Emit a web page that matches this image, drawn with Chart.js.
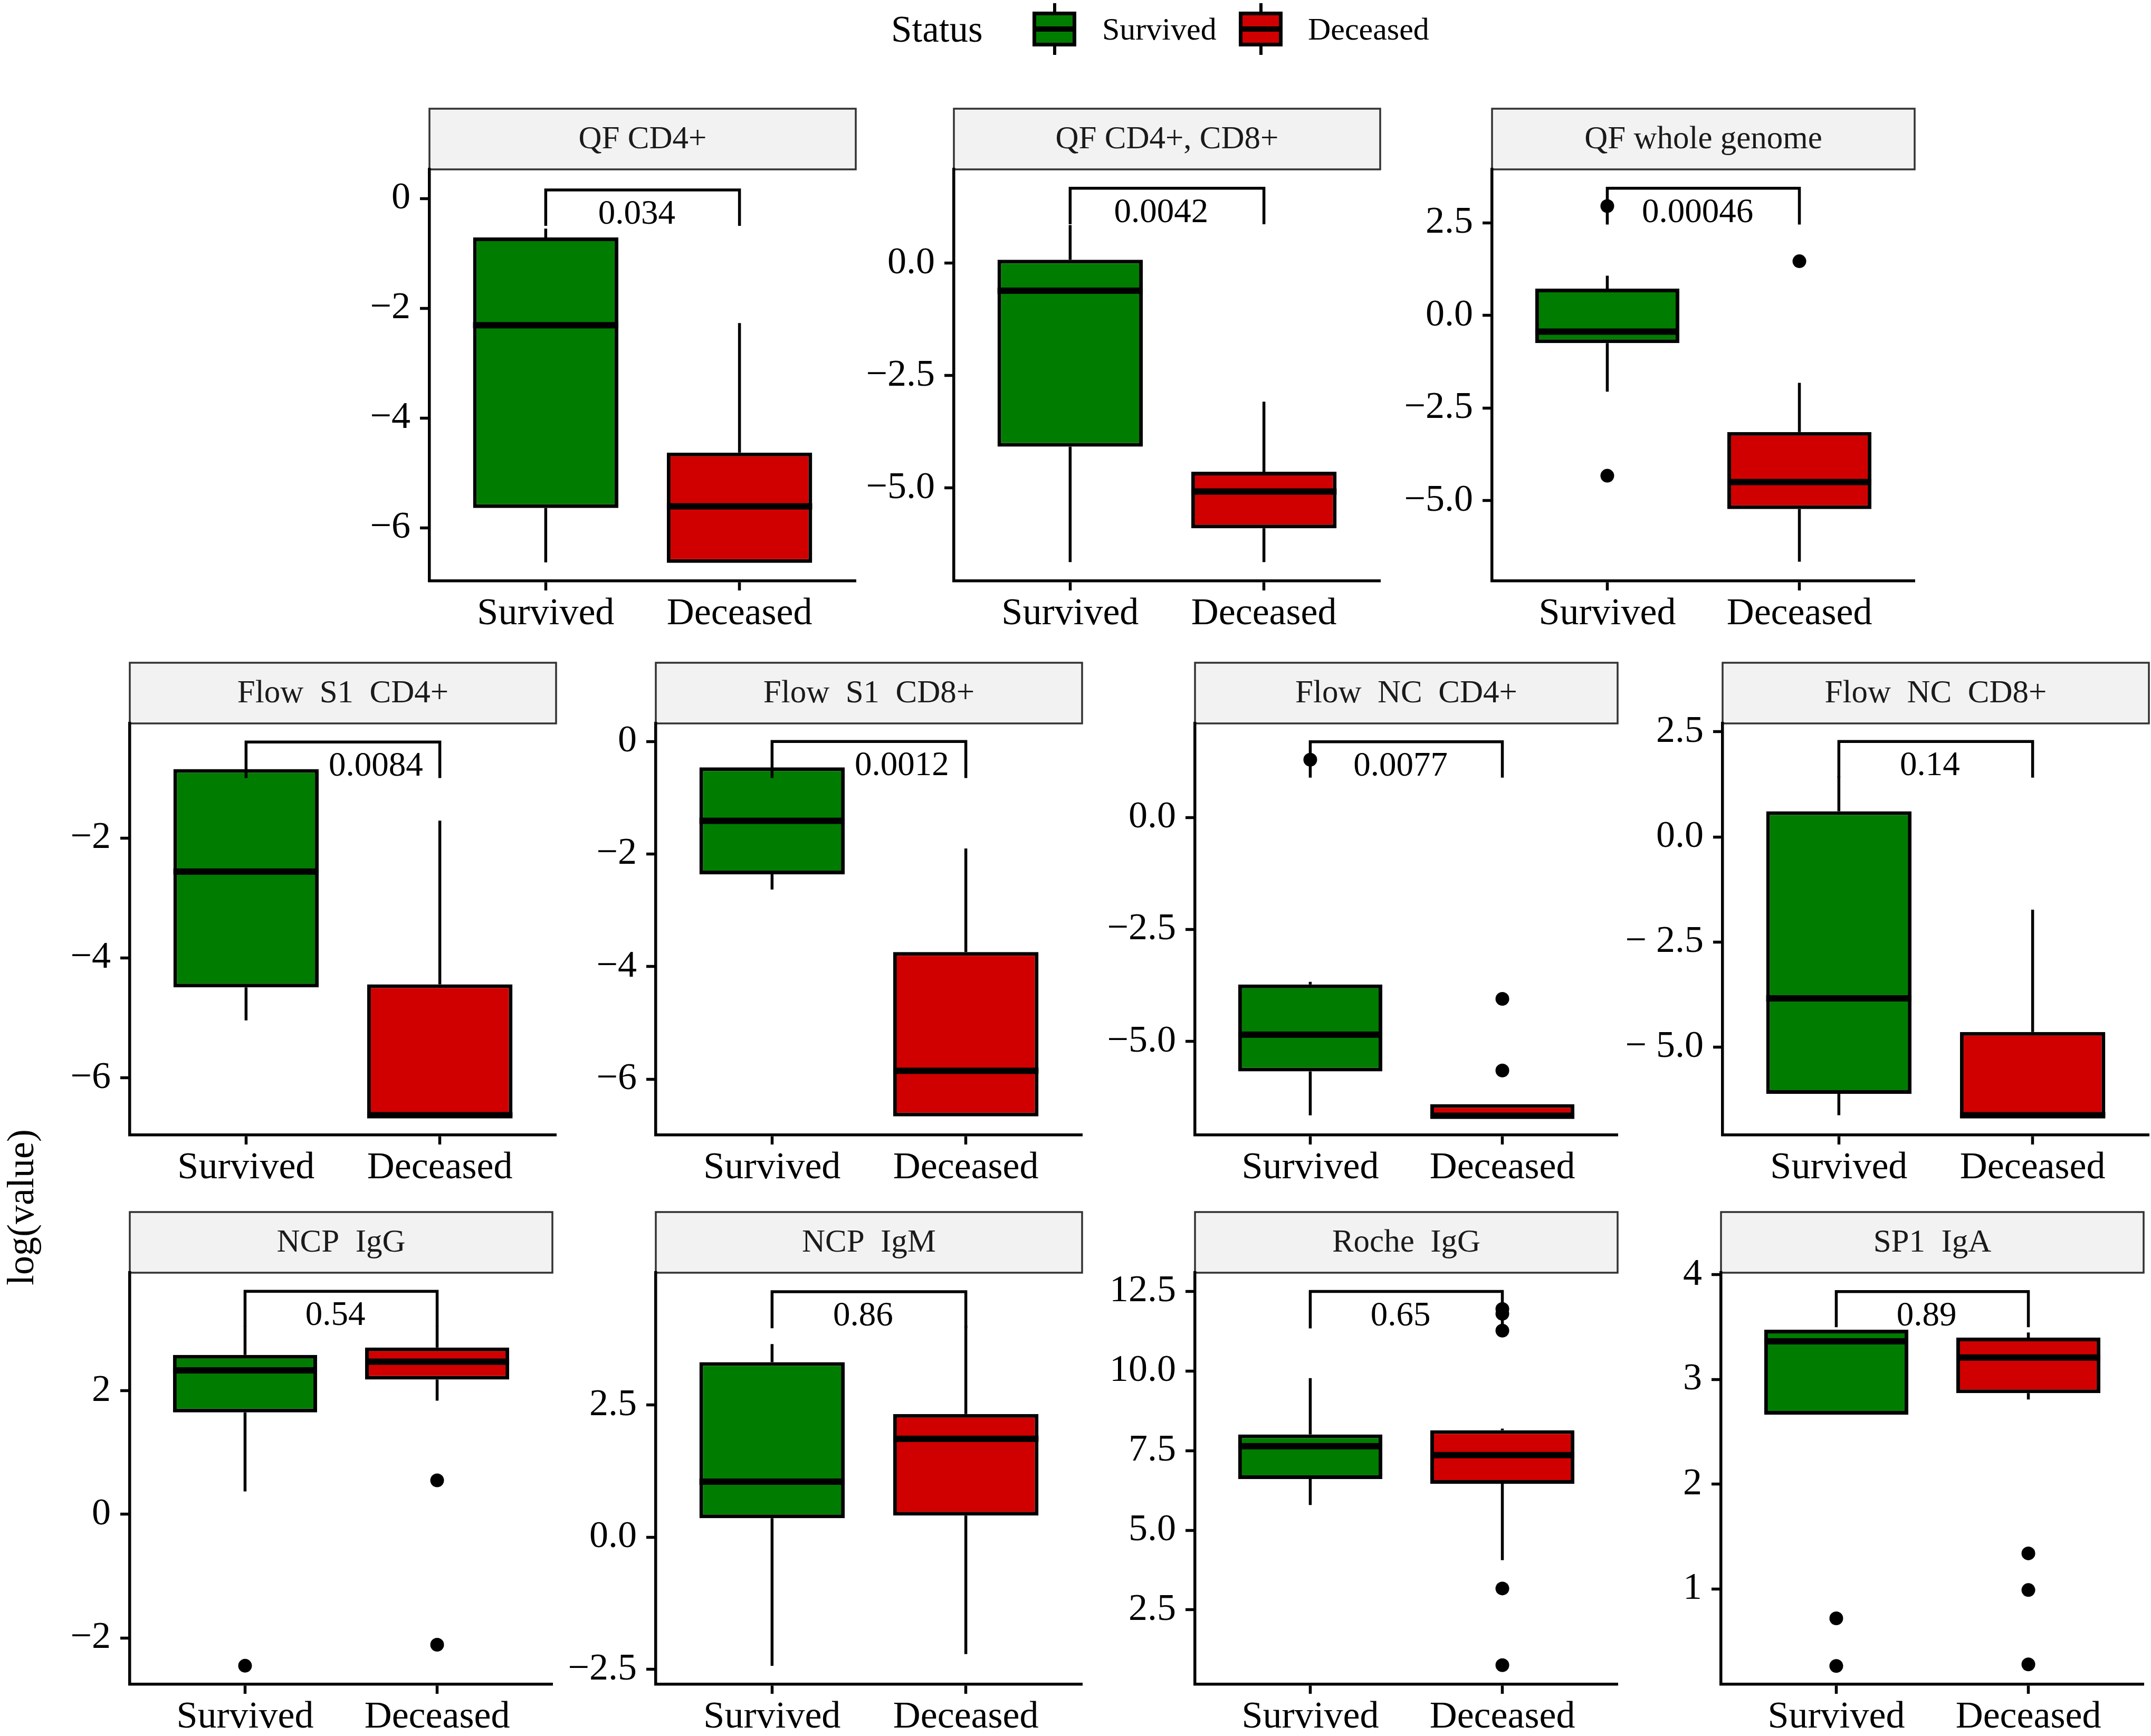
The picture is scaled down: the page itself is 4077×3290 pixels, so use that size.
<!DOCTYPE html>
<html>
<head>
<meta charset="utf-8">
<title>Status box plots</title>
<script src="https://cdn.jsdelivr.net/npm/chart.js@4.4.1/dist/chart.umd.min.js"></script>
<style>
  html, body { margin: 0; padding: 0; background: #fff; }
  body { width: 4077px; height: 3290px; position: relative; overflow: hidden; font-family: "Liberation Serif", "Times New Roman", serif; }
  canvas { position: absolute; }
  .txt { position: absolute; white-space: pre; line-height: 1; color: #000; transform: translateY(-50%); }
  .key { position: absolute; width: 83px; height: 98px; }
  .key .whisk { position: absolute; left: 39px; top: 0; width: 6px; height: 98px; background: #000; }
  .key .box { position: absolute; left: 0; top: 16px; width: 83px; height: 66px; box-sizing: border-box; border: 7px solid #000; }
  .key .med { position: absolute; left: 0; top: 44px; width: 83px; height: 10px; background: #000; }
  #ytitle { position: absolute; left: 39px; top: 2288px; font-size: 72px; line-height: 1; white-space: nowrap;
            transform: translate(-50%, -50%) rotate(-90deg); }
</style>
</head>
<body>
<div id="ytitle">log(value)</div>
<script>
// ---- data ----
const groups = ['Survived', 'Deceased'];
const panelTitles = ['QF CD4+', 'QF CD4+, CD8+', 'QF whole genome',
  'Flow  S1  CD4+', 'Flow  S1  CD8+', 'Flow  NC  CD4+', 'Flow  NC  CD8+',
  'NCP  IgG', 'NCP  IgM', 'Roche  IgG', 'SP1  IgA'];

// [lower whisker, Q1, median, Q3, upper whisker]
const survivedStats = [
  [-6.63, -5.64, -2.31, -0.71, -0.55],
  [-6.65, -4.08, -0.61, 0.08, 0.85],
  [-2.06, -0.75, -0.44, 0.72, 1.07],
  [-5.04, -4.49, -2.56, -0.85, -0.85],
  [-2.63, -2.36, -1.41, -0.46, -0.46],
  [-6.65, -5.67, -4.85, -3.73, -3.67],
  [-6.62, -6.11, -3.84, 0.61, 1.45],
  [0.37, 1.65, 2.33, 2.58, 3.05],
  [-2.43, 0.36, 1.05, 3.31, 3.65],
  [5.79, 6.61, 7.64, 8.01, 9.78],
  [2.665, 2.665, 3.365, 3.476, 3.476]
];
const deceasedStats = [
  [-6.64, -6.64, -5.61, -4.63, -2.27],
  [-6.65, -5.90, -5.08, -4.64, -3.08],
  [-6.65, -5.23, -4.50, -3.15, -1.82],
  [-6.64, -6.64, -6.62, -4.44, -1.71],
  [-6.66, -6.66, -5.85, -3.74, -1.90],
  [-6.71, -6.71, -6.66, -6.40, -6.40],
  [-6.66, -6.66, -6.62, -4.64, -1.73],
  [1.84, 2.18, 2.47, 2.70, 3.05],
  [-2.21, 0.41, 1.86, 2.33, 4.0],
  [4.06, 6.46, 7.36, 8.14, 8.19],
  [2.81, 2.87, 3.21, 3.40, 3.45]
];
const survivedOutliers = [[], [], [2.95, -4.33], [], [], [1.29], [], [-2.45], [], [], [0.72, 0.265]];
const deceasedOutliers = [[], [], [1.46], [], [], [-4.05, -5.65], [], [0.55, -2.11], [],
  [11.95, 11.8, 11.27, 3.17, 0.76], [1.34, 0.99, 0.28]];

const pValues = ['0.034', '0.0042', '0.00046', '0.0084', '0.0012', '0.0077', '0.14', '0.54', '0.86', '0.65', '0.89'];
const bracketTop = [0.156, 1.67, 3.43, -0.40, 0.0, 1.69, 2.27, 3.61, 4.64, 12.5, 3.84];
const bracketTip = [-0.5, 0.87, 2.45, -1.0, -0.65, 0.89, 1.41, 3.04, 3.95, 11.34, 3.50];
const pLabelX = [1.47, 1.47, 1.47, 1.67, 1.67, 1.47, 1.47, 1.47, 1.47, 1.47, 1.47];

const yLimits = [[-6.97, 0.53], [-7.07, 2.09], [-7.17, 3.94], [-6.95, -0.09], [-6.99, 0.32],
  [-7.09, 2.10], [-7.09, 2.70], [-2.75, 3.91], [-2.78, 5.0], [0.16, 13.09], [0.09, 4.02]];
const yTicks = [[0, -2, -4, -6], [0, -2.5, -5], [2.5, 0, -2.5, -5], [-2, -4, -6], [0, -2, -4, -6],
  [0, -2.5, -5], [2.5, 0, -2.5, -5], [2, 0, -2], [2.5, 0, -2.5], [12.5, 10, 7.5, 5, 2.5], [4, 3, 2, 1]];
const M = '\u2212';
const yTickLabels = [
  ['0', M + '2', M + '4', M + '6'],
  ['0.0', M + '2.5', M + '5.0'],
  ['2.5', '0.0', M + '2.5', M + '5.0'],
  [M + '2', M + '4', M + '6'],
  ['0', M + '2', M + '4', M + '6'],
  ['0.0', M + '2.5', M + '5.0'],
  ['2.5', '0.0', M + ' 2.5', M + ' 5.0'],
  ['2', '0', M + '2'],
  ['2.5', '0.0', M + '2.5'],
  ['12.5', '10.0', '7.5', '5.0', '2.5'],
  ['4', '3', '2', '1']
];

// ---- layout / style ----
const panelX = [814, 1808, 2828, 246, 1243, 2265, 3265, 246, 1243, 2265, 3262];
const panelY = [204, 204, 204, 1254, 1254, 1254, 1254, 2295, 2295, 2295, 2295];
const PANEL_W = 808, PANEL_H = 780, STRIP_H = 117, Y_AXIS_W = 200, X_AXIS_H = 95;
const FILL = ['#007d00', '#d10000'];
const FONT = '"Liberation Serif", "Times New Roman", serif';
const LW = 5.5;

// legend
function addText(str, left, size) {
  const d = document.createElement('div');
  d.className = 'txt';
  d.textContent = str;
  d.style.left = left + 'px';
  d.style.top = '55px';
  d.style.fontSize = size + 'px';
  document.body.appendChild(d);
}
function addKey(left, color) {
  const k = document.createElement('div');
  k.className = 'key';
  k.style.left = left + 'px';
  k.style.top = '6px';
  k.innerHTML = '<div class="whisk"></div><div class="box" style="background:' + color + '"></div><div class="med"></div>';
  document.body.appendChild(k);
}
addText('Status', 1689, 71);
addKey(1957, FILL[0]);
addText(groups[0], 2089, 60);
addKey(2348, FILL[1]);
addText(groups[1], 2479, 60);

// whiskers, medians, facet strip and the p-value bracket
const boxParts = {
  id: 'boxParts',
  beforeDraw(chart, args, o) {
    const a = chart.chartArea, ctx = chart.ctx;
    ctx.save();
    ctx.fillStyle = '#f2f2f2';
    ctx.fillRect(a.left, a.top - STRIP_H, a.right - a.left, STRIP_H);
    ctx.strokeStyle = '#333333';
    ctx.lineWidth = 3.5;
    ctx.strokeRect(a.left, a.top - STRIP_H + 2, a.right - a.left, STRIP_H - 2);
    ctx.fillStyle = '#1a1a1a';
    ctx.font = '61px ' + FONT;
    ctx.textAlign = 'center';
    ctx.textBaseline = 'middle';
    ctx.fillText(o.title, (a.left + a.right) / 2, a.top - STRIP_H / 2 + 2);
    ctx.restore();
  },
  beforeDatasetsDraw(chart, args, o) {
    const ctx = chart.ctx, x = chart.scales.x, y = chart.scales.y;
    ctx.save();
    ctx.strokeStyle = '#000';
    ctx.lineWidth = LW;
    o.stats.forEach((s, i) => {
      const px = x.getPixelForValue(i + 1);
      ctx.beginPath();
      ctx.moveTo(px, y.getPixelForValue(s[0]));
      ctx.lineTo(px, y.getPixelForValue(s[1]));
      ctx.moveTo(px, y.getPixelForValue(s[3]));
      ctx.lineTo(px, y.getPixelForValue(s[4]));
      ctx.stroke();
    });
    ctx.restore();
  },
  afterDatasetsDraw(chart, args, o) {
    const ctx = chart.ctx, x = chart.scales.x, y = chart.scales.y;
    const bars = chart.getDatasetMeta(1).data;
    ctx.save();
    ctx.fillStyle = '#000';
    bars.forEach((bar, i) => {
      const py = y.getPixelForValue(o.stats[i][2]);
      ctx.fillRect(bar.x - bar.width / 2, py - 6, bar.width, 12);
    });
    const x1 = x.getPixelForValue(1), x2 = x.getPixelForValue(2);
    const top = y.getPixelForValue(o.bracket[0]), tip = y.getPixelForValue(o.bracket[1]);
    ctx.strokeStyle = '#000';
    ctx.lineWidth = LW;
    ctx.lineJoin = 'miter';
    ctx.beginPath();
    ctx.moveTo(x1, tip);
    ctx.lineTo(x1, top);
    ctx.lineTo(x2, top);
    ctx.lineTo(x2, tip);
    ctx.stroke();
    ctx.font = '65px ' + FONT;
    ctx.textAlign = 'center';
    ctx.textBaseline = 'alphabetic';
    ctx.fillText(o.label, x.getPixelForValue(o.labelX), top + 64);
    ctx.restore();
  }
};

function axisGrid() {
  return { display: true, drawOnChartArea: false, drawTicks: true, tickLength: 18, tickWidth: LW, tickColor: '#000', offset: false };
}

panelTitles.forEach((title, i) => {
  const canvas = document.createElement('canvas');
  canvas.width = Y_AXIS_W + PANEL_W + 6;
  canvas.height = STRIP_H + PANEL_H + X_AXIS_H;
  canvas.style.left = (panelX[i] - Y_AXIS_W) + 'px';
  canvas.style.top = panelY[i] + 'px';
  document.body.appendChild(canvas);

  const stats = [survivedStats[i], deceasedStats[i]];
  const outliers = survivedOutliers[i].map(v => ({ x: 1, y: v }))
    .concat(deceasedOutliers[i].map(v => ({ x: 2, y: v })));

  new Chart(canvas, {
    type: 'bar',
    data: {
      datasets: [
        { type: 'scatter', order: 0, data: outliers, pointRadius: 13, pointHoverRadius: 13,
          pointBackgroundColor: '#000', pointBorderWidth: 0 },
        { type: 'bar', order: 1, data: stats.map((s, k) => ({ x: k + 1, y: [s[1], s[3]] })),
          backgroundColor: FILL, borderColor: '#000', borderWidth: 7, borderSkipped: false,
          barPercentage: 0.75, categoryPercentage: 1, grouped: false }
      ]
    },
    options: {
      responsive: false,
      animation: false,
      devicePixelRatio: 1,
      events: [],
      layout: { padding: { top: STRIP_H, right: 6, left: 0, bottom: 0 } },
      plugins: {
        legend: { display: false },
        tooltip: { enabled: false },
        boxParts: { title: title, stats: stats, bracket: [bracketTop[i], bracketTip[i]],
                    label: pValues[i], labelX: pLabelX[i] }
      },
      scales: {
        x: {
          type: 'linear', min: 0.4, max: 2.6, offset: false,
          grid: axisGrid(),
          border: { display: true, color: '#000', width: LW },
          afterBuildTicks: s => { s.ticks = groups.map((g, k) => ({ value: k + 1 })); },
          ticks: { autoSkip: false, maxRotation: 0, padding: 2, color: '#000',
                   font: { family: FONT, size: 72 }, callback: (v, k) => groups[k] },
          afterFit: s => { s.height = X_AXIS_H; }
        },
        y: {
          type: 'linear', min: yLimits[i][0], max: yLimits[i][1], beginAtZero: false,
          grid: axisGrid(),
          border: { display: true, color: '#000', width: LW },
          afterBuildTicks: s => { s.ticks = yTicks[i].map(v => ({ value: v })); },
          ticks: { autoSkip: false, padding: 18, color: '#000',
                   font: { family: FONT, size: 72 }, callback: (v, k) => yTickLabels[i][k] },
          afterFit: s => { s.width = Y_AXIS_W; }
        }
      }
    },
    plugins: [boxParts]
  });
});
</script>
</body>
</html>
